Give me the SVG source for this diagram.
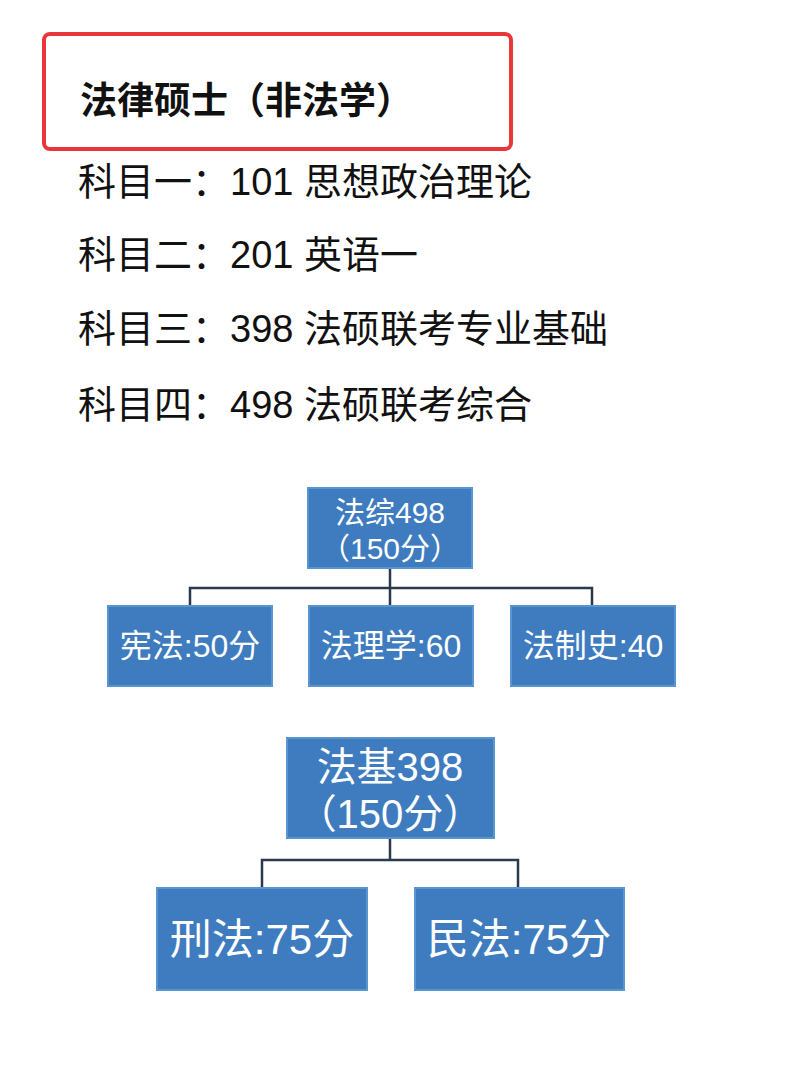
<svg xmlns="http://www.w3.org/2000/svg" width="800" height="1067" viewBox="0 0 800 1067">
<style>
.t{font-family:"Liberation Sans","Noto Sans CJK SC",sans-serif;fill:#111}
.b{fill:#3e7cbf;stroke:#5b95cf;stroke-width:2}
.w{font-family:"Liberation Sans","Noto Sans CJK SC",sans-serif;fill:#fff;text-anchor:middle}
.c{fill:none;stroke:#2b3a4a;stroke-width:2.5}
</style>
<rect width="800" height="1067" fill="#fff"/>
<rect x="44" y="34" width="467" height="115" rx="6" fill="none" stroke="#e8373a" stroke-width="4"/>
<text class="t" x="80" y="114" font-size="37" font-weight="bold">法律硕士（非法学）</text>
<text class="t" x="78" y="195" font-size="38">科目一：101 思想政治理论</text>
<text class="t" x="78" y="268" font-size="38">科目二：201 英语一</text>
<text class="t" x="78" y="342" font-size="38">科目三：398 法硕联考专业基础</text>
<text class="t" x="78" y="418" font-size="38">科目四：498 法硕联考综合</text>
<g id="connectors">
<path class="c" d="M390 568V606M190 606V588H592V606"/>
<path class="c" d="M390 838V860M262 888V860H518V888"/>
</g>
<g id="n1"><rect class="b" x="308" y="488" width="164" height="80"/><text class="w" x="390" y="523" font-size="30">法综498</text><text class="w" x="390" y="559" font-size="30">（150分）</text></g>
<g id="n2"><rect class="b" x="108" y="606" width="164" height="80"/><text class="w" x="190" y="657" font-size="32">宪法:50分</text></g>
<g id="n3"><rect class="b" x="309" y="606" width="164" height="80"/><text class="w" x="391" y="657" font-size="32">法理学:60</text></g>
<g id="n4"><rect class="b" x="511" y="606" width="164" height="80"/><text class="w" x="593" y="657" font-size="32">法制史:40</text></g>
<g id="n5"><rect class="b" x="287" y="738" width="207" height="100"/><text class="w" x="390" y="781" font-size="40">法基398</text><text class="w" x="390" y="828" font-size="40">（150分）</text></g>
<g id="n6"><rect class="b" x="157" y="888" width="210" height="102"/><text class="w" x="262" y="954" font-size="42">刑法:75分</text></g>
<g id="n7"><rect class="b" x="415" y="888" width="209" height="102"/><text class="w" x="519" y="954" font-size="42">民法:75分</text></g>
</svg>
